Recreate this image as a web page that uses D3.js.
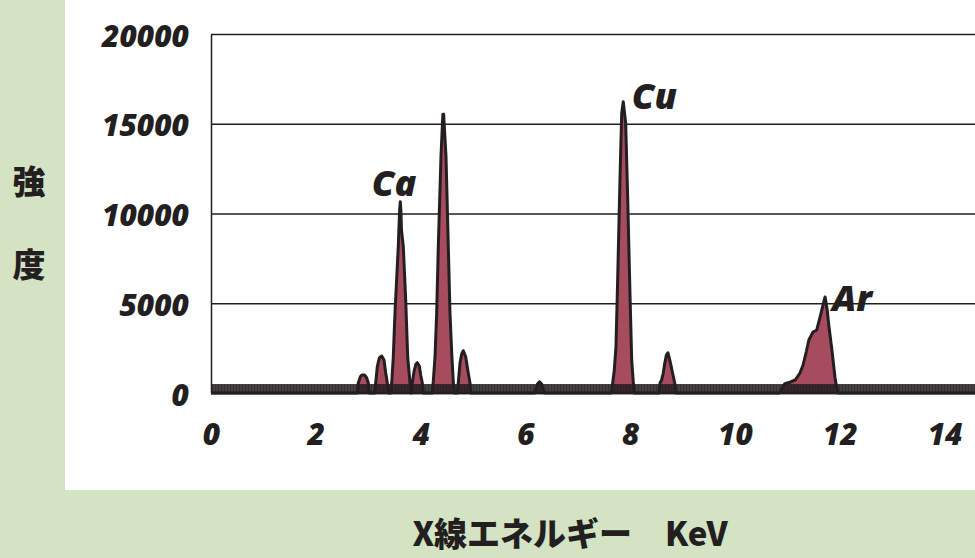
<!DOCTYPE html>
<html>
<head>
<meta charset="utf-8">
<title>X線スペクトル</title>
<script src="https://d3js.org/d3.v7.min.js"></script>
<style>
  body { margin: 0; background: #d3e3c4; }
  svg { display: block; }
  .tick text { font-family: "Open Sans", sans-serif; font-weight: 800; font-style: italic; fill: #231f20; }
</style>
</head>
<body>
<div id="chart"></div>
<script>
// tick values
var yTicks = [0, 5000, 10000, 15000, 20000];
var xTicks = [0, 2, 4, 6, 8, 10, 12, 14];

// spectrum outline: energy (keV) and counts
var energy = [0,
  2.79, 2.811, 2.85, 2.88, 2.93, 2.97, 3.002, 3.02,
  3.12, 3.143, 3.174, 3.212, 3.258, 3.302, 3.334, 3.365, 3.39,
  3.43, 3.449, 3.479, 3.511, 3.574, 3.60, 3.613, 3.625, 3.635, 3.670, 3.716, 3.754, 3.798, 3.82,
  3.83, 3.842, 3.874, 3.912, 3.937, 3.975, 4.002, 4.033, 4.05,
  4.22, 4.242, 4.275, 4.307, 4.338, 4.389, 4.425, 4.44, 4.485, 4.529, 4.561, 4.594, 4.624, 4.64,
  4.70, 4.719, 4.752, 4.784, 4.815, 4.861, 4.891, 4.910, 4.943, 4.96,
  6.18, 6.23, 6.27, 6.31, 6.36,
  7.64, 7.666, 7.697, 7.729, 7.761, 7.805, 7.838, 7.868, 7.914, 7.952, 7.996, 8.029, 8.059, 8.08,
  8.55, 8.57, 8.60, 8.63, 8.66, 8.69, 8.72, 8.75, 8.77, 8.81, 8.85, 8.87,
  10.85, 10.95, 11.05, 11.15, 11.24, 11.30, 11.36, 11.41, 11.49, 11.56, 11.62, 11.68, 11.72, 11.76, 11.79, 11.85, 11.91, 11.95, 11.97,
  14.6];
var counts = [0,
  0, 557, 900, 1003, 1003, 850, 557, 0,
  0, 557, 1465, 1950, 2061, 1838, 1114, 557, 0,
  0, 557, 2006, 4457, 8150, 10200, 10657, 10100, 9081, 8150, 5181, 2006, 557, 0,
  0, 557, 1187, 1616, 1688, 1504, 1003, 557, 0,
  0, 630, 2006, 4457, 8150, 13164, 15526, 15526, 13164, 8150, 4457, 2228, 630, 0,
  0, 557, 1671, 2173, 2357, 2022, 1465, 1114, 557, 0,
  0, 500, 620, 500, 0,
  0, 540, 1281, 2579, 6295, 11866, 15582, 16228, 15025, 10936, 5554, 1838, 630, 0,
  0, 557, 724, 1097, 1655, 2100, 2245, 1900, 1655, 1097, 557, 0,
  0, 520, 600, 724, 1114, 1560, 2284, 2953, 3398, 3510, 4178, 4903, 5348, 4624, 3788, 2396, 836, 167, 0,
  0];

// noise floor drawn as the hatched band
var noiseLevel = 500;

// element labels
var peakNames = ["Ca", "Cu", "Ar"];
var peakLabelE = [3.07, 8.03, 11.85];
var peakLabelC = [10950, 15800, 4570];

var W = 975, H = 558;
var svg = d3.select("#chart").append("svg")
    .attr("width", W)
    .attr("height", H);

// white panel
svg.append("rect")
    .attr("x", 65).attr("y", 0)
    .attr("width", W - 65).attr("height", 490)
    .attr("fill", "#ffffff");

var x = d3.scaleLinear().domain([0, 14.6]).range([211, 976]);
var y = d3.scaleLinear().domain([0, 20000]).range([393, 34]);

// stripes for the noise band
var defs = svg.append("defs");
var pat = defs.append("pattern")
    .attr("id", "noise")
    .attr("patternUnits", "userSpaceOnUse")
    .attr("width", 3).attr("height", 10);
pat.append("rect").attr("width", 3).attr("height", 10).attr("fill", "rgba(35,31,32,0.85)");
pat.append("rect").attr("x", 2).attr("width", 1).attr("height", 10).attr("fill", "rgba(35,31,32,0.45)");

// gridlines + y labels
var yAxis = svg.append("g")
    .attr("transform", "translate(" + x(0) + ",0)")
    .call(d3.axisLeft(y).tickValues(yTicks).tickFormat(d3.format("d"))
        .tickSize(-(x.range()[1] - x(0))).tickSizeOuter(0).tickPadding(22));
yAxis.select(".domain").attr("stroke", "#231f20").attr("stroke-width", 1.5);
yAxis.selectAll(".tick line").attr("stroke", "#231f20").attr("stroke-width", 1.5);
yAxis.selectAll(".tick text").attr("font-size", 30).attr("dy", "0.4em");

// x labels
var xAxis = svg.append("g")
    .attr("transform", "translate(0," + y(0) + ")")
    .call(d3.axisBottom(x).tickValues(xTicks).tickSize(0));
xAxis.select(".domain").remove();
xAxis.selectAll(".tick text").attr("font-size", 30).attr("y", 41).attr("dy", "0.35em");

var pts = energy.map(function (e, i) { return [e, counts[i]]; });

// peaks
svg.append("path")
    .datum(pts)
    .attr("fill", "#a64c5e")
    .attr("d", d3.area()
        .x(function (d) { return x(d[0]); })
        .y0(y(0))
        .y1(function (d) { return y(d[1]); }));

svg.append("path")
    .datum(pts)
    .attr("fill", "none")
    .attr("stroke", "#231f20")
    .attr("stroke-width", 3)
    .attr("stroke-linejoin", "round")
    .attr("d", d3.line()
        .x(function (d) { return x(d[0]); })
        .y(function (d) { return y(d[1]); }));

// noise band along the baseline
svg.append("rect")
    .attr("x", x(0))
    .attr("y", y(noiseLevel))
    .attr("width", x.range()[1] - x(0))
    .attr("height", y(0) - y(noiseLevel))
    .attr("fill", "url(#noise)");

svg.append("line")
    .attr("x1", x(0)).attr("x2", x.range()[1])
    .attr("y1", y(0)).attr("y2", y(0))
    .attr("stroke", "#231f20")
    .attr("stroke-width", 2.5);

// peak names
svg.selectAll(".peakname")
    .data(peakNames)
    .enter()
    .append("text")
    .attr("class", "peakname")
    .attr("x", function (d, i) { return x(peakLabelE[i]); })
    .attr("y", function (d, i) { return y(peakLabelC[i]); })
    .attr("font-family", "'Open Sans', sans-serif")
    .attr("font-weight", 800)
    .attr("font-style", "italic")
    .attr("font-size", 36)
    .attr("fill", "#231f20")
    .text(function (d) { return d; });

// axis titles
svg.append("text")
    .attr("x", 570).attr("y", 546)
    .attr("text-anchor", "middle")
    .attr("font-family", "'Noto Sans CJK JP', sans-serif")
    .attr("font-weight", 900)
    .attr("font-size", 33)
    .attr("fill", "#231f20")
    .attr("xml:space", "preserve")
    .text("X線エネルギー　KeV");

svg.selectAll(".ylab")
    .data(["強", "度"])
    .enter()
    .append("text")
    .attr("class", "ylab")
    .attr("x", 29)
    .attr("y", function (d, i) { return 194 + i * 83; })
    .attr("text-anchor", "middle")
    .attr("font-family", "'Noto Sans CJK JP', sans-serif")
    .attr("font-weight", 900)
    .attr("font-size", 33)
    .attr("fill", "#231f20")
    .text(function (d) { return d; });
</script>
</body>
</html>
